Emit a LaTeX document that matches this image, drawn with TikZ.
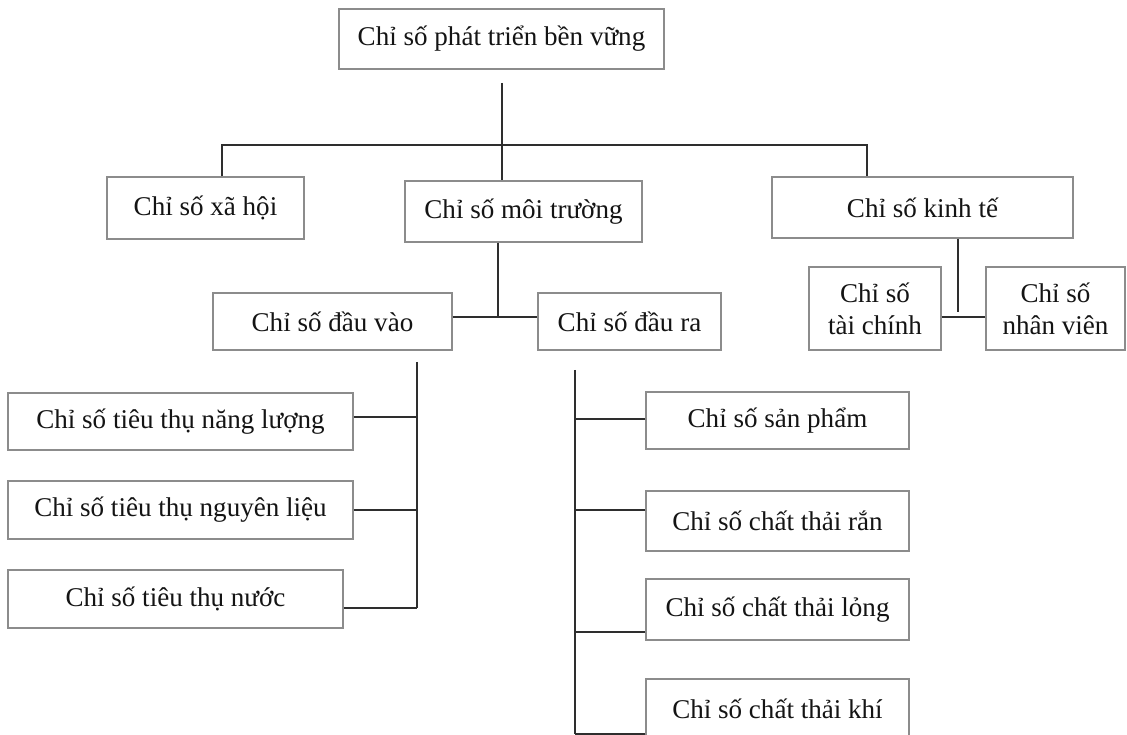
\documentclass[tikz,border=0pt]{standalone}
\usepackage{fontspec}
\setmainfont{Liberation Serif}
\usetikzlibrary{positioning, calc}
\definecolor{cframe}{HTML}{8C8C8C}
\definecolor{cline}{HTML}{2E2E2E}
\definecolor{ctext}{HTML}{141414}
\tikzset{
  every picture/.style={line width=1.1pt},
  box/.style={draw=cframe, line width=0.7pt, fill=white, text=ctext, align=center, inner sep=0pt,
    minimum width=#1, font=\fontsize{15.4}{18.2}\selectfont},
  box/.default=4cm,
  link/.style={draw=cline, line width=1.1pt},
}

\begin{document}
\begin{tikzpicture}
  \useasboundingbox (0,0) rectangle (22.54,14.7);
  % top level
  \node[box=6.5cm, minimum height=1.2cm] (phattrien) at (10.03,13.92) {Chỉ số phát triển bền vững};
  \node[box=3.94cm, minimum height=1.24cm] (xahoi) at (4.11,10.54) {Chỉ số xã hội};
  \node[box=4.74cm, minimum height=1.22cm] (moitruong) at (10.47,10.47) {Chỉ số môi trường};
  \node[box=6.02cm, minimum height=1.22cm] (kinhte) at (18.45,10.55) {Chỉ số kinh tế};
  % second level
  \node[box=4.78cm, minimum height=1.14cm] (dauvao) at (6.65,8.27) {Chỉ số đầu vào};
  \node[box=3.66cm, minimum height=1.14cm] (daura) at (12.59,8.27) {Chỉ số đầu ra};
  \node[box=2.64cm, minimum height=1.66cm] (taichinh) at (17.5,8.53) {Chỉ số\\tài chính};
  \node[box=2.78cm, minimum height=1.66cm] (nhanvien) at (21.11,8.53) {Chỉ số\\nhân viên};
  % inputs
  \node[box=6.9cm, minimum height=1.14cm] (nangluong) at (3.61,6.27) {Chỉ số tiêu thụ năng lượng};
  \node[box=6.9cm, minimum height=1.16cm] (nguyenlieu) at (3.61,4.5) {Chỉ số tiêu thụ nguyên liệu};
  \node[box=6.7cm, minimum height=1.16cm] (nuoc) at (3.51,2.72) {Chỉ số tiêu thụ nước};
  % outputs
  \node[box=5.26cm, minimum height=1.14cm] (sanpham) at (15.55,6.29) {Chỉ số sản phẩm};
  \node[box=5.26cm, minimum height=1.2cm] (chatran) at (15.55,4.28) {Chỉ số chất thải rắn};
  \node[box=5.26cm, minimum height=1.22cm] (chatlong) at (15.55,2.51) {Chỉ số chất thải lỏng};
  \node[box=5.26cm, minimum height=1.2cm] (chatkhi) at (15.55,0.52) {Chỉ số chất thải khí};

  % junctions
  \coordinate (trunk) at (10.04,13.04);
  \coordinate (barL) at (4.44,11.8);
  \coordinate (barR) at (17.34,11.8);
  \coordinate (jmt) at (9.96,8.36);
  \coordinate (jkt) at (19.16,8.46);
  \coordinate (inTop) at (8.34,7.46);
  \coordinate (inBot) at (8.34,2.54);
  \coordinate (outTop) at (11.5,7.3);
  \coordinate (outBot) at (11.5,0.02);

  \draw[link] (trunk) -- (trunk |- moitruong.north);
  \draw[link] (barL |- xahoi.north) -- (barL) -- (barR) -- (barR |- kinhte.north);
  \draw[link] (jmt |- moitruong.south) -- (jmt);
  \draw[link] (dauvao.east |- jmt) -- (daura.west |- jmt);
  \draw[link] (jkt |- kinhte.south) -- (jkt);
  \draw[link] (taichinh.east |- jmt) -- (nhanvien.west |- jmt);

  \draw[link] (inTop) -- (inBot);
  \draw[link] ([yshift=0.09cm]nangluong.east) -- ([yshift=0.09cm]nangluong.east -| inTop);
  \draw[link] (nguyenlieu.east) -- (nguyenlieu.east -| inTop);
  \draw[link] (inBot -| nuoc.east) -- (inBot);

  \draw[link] (outTop) -- (outBot);
  \draw[link] ([yshift=0.03cm]sanpham.west) -- ([yshift=0.03cm]sanpham.west -| outTop);
  \draw[link] ([yshift=0.22cm]chatran.west) -- ([yshift=0.22cm]chatran.west -| outTop);
  \draw[link] ([yshift=-0.45cm]chatlong.west) -- ([yshift=-0.45cm]chatlong.west -| outTop);
  \draw[link] (outBot -| chatkhi.west) -- (outBot);
\end{tikzpicture}
\end{document}
